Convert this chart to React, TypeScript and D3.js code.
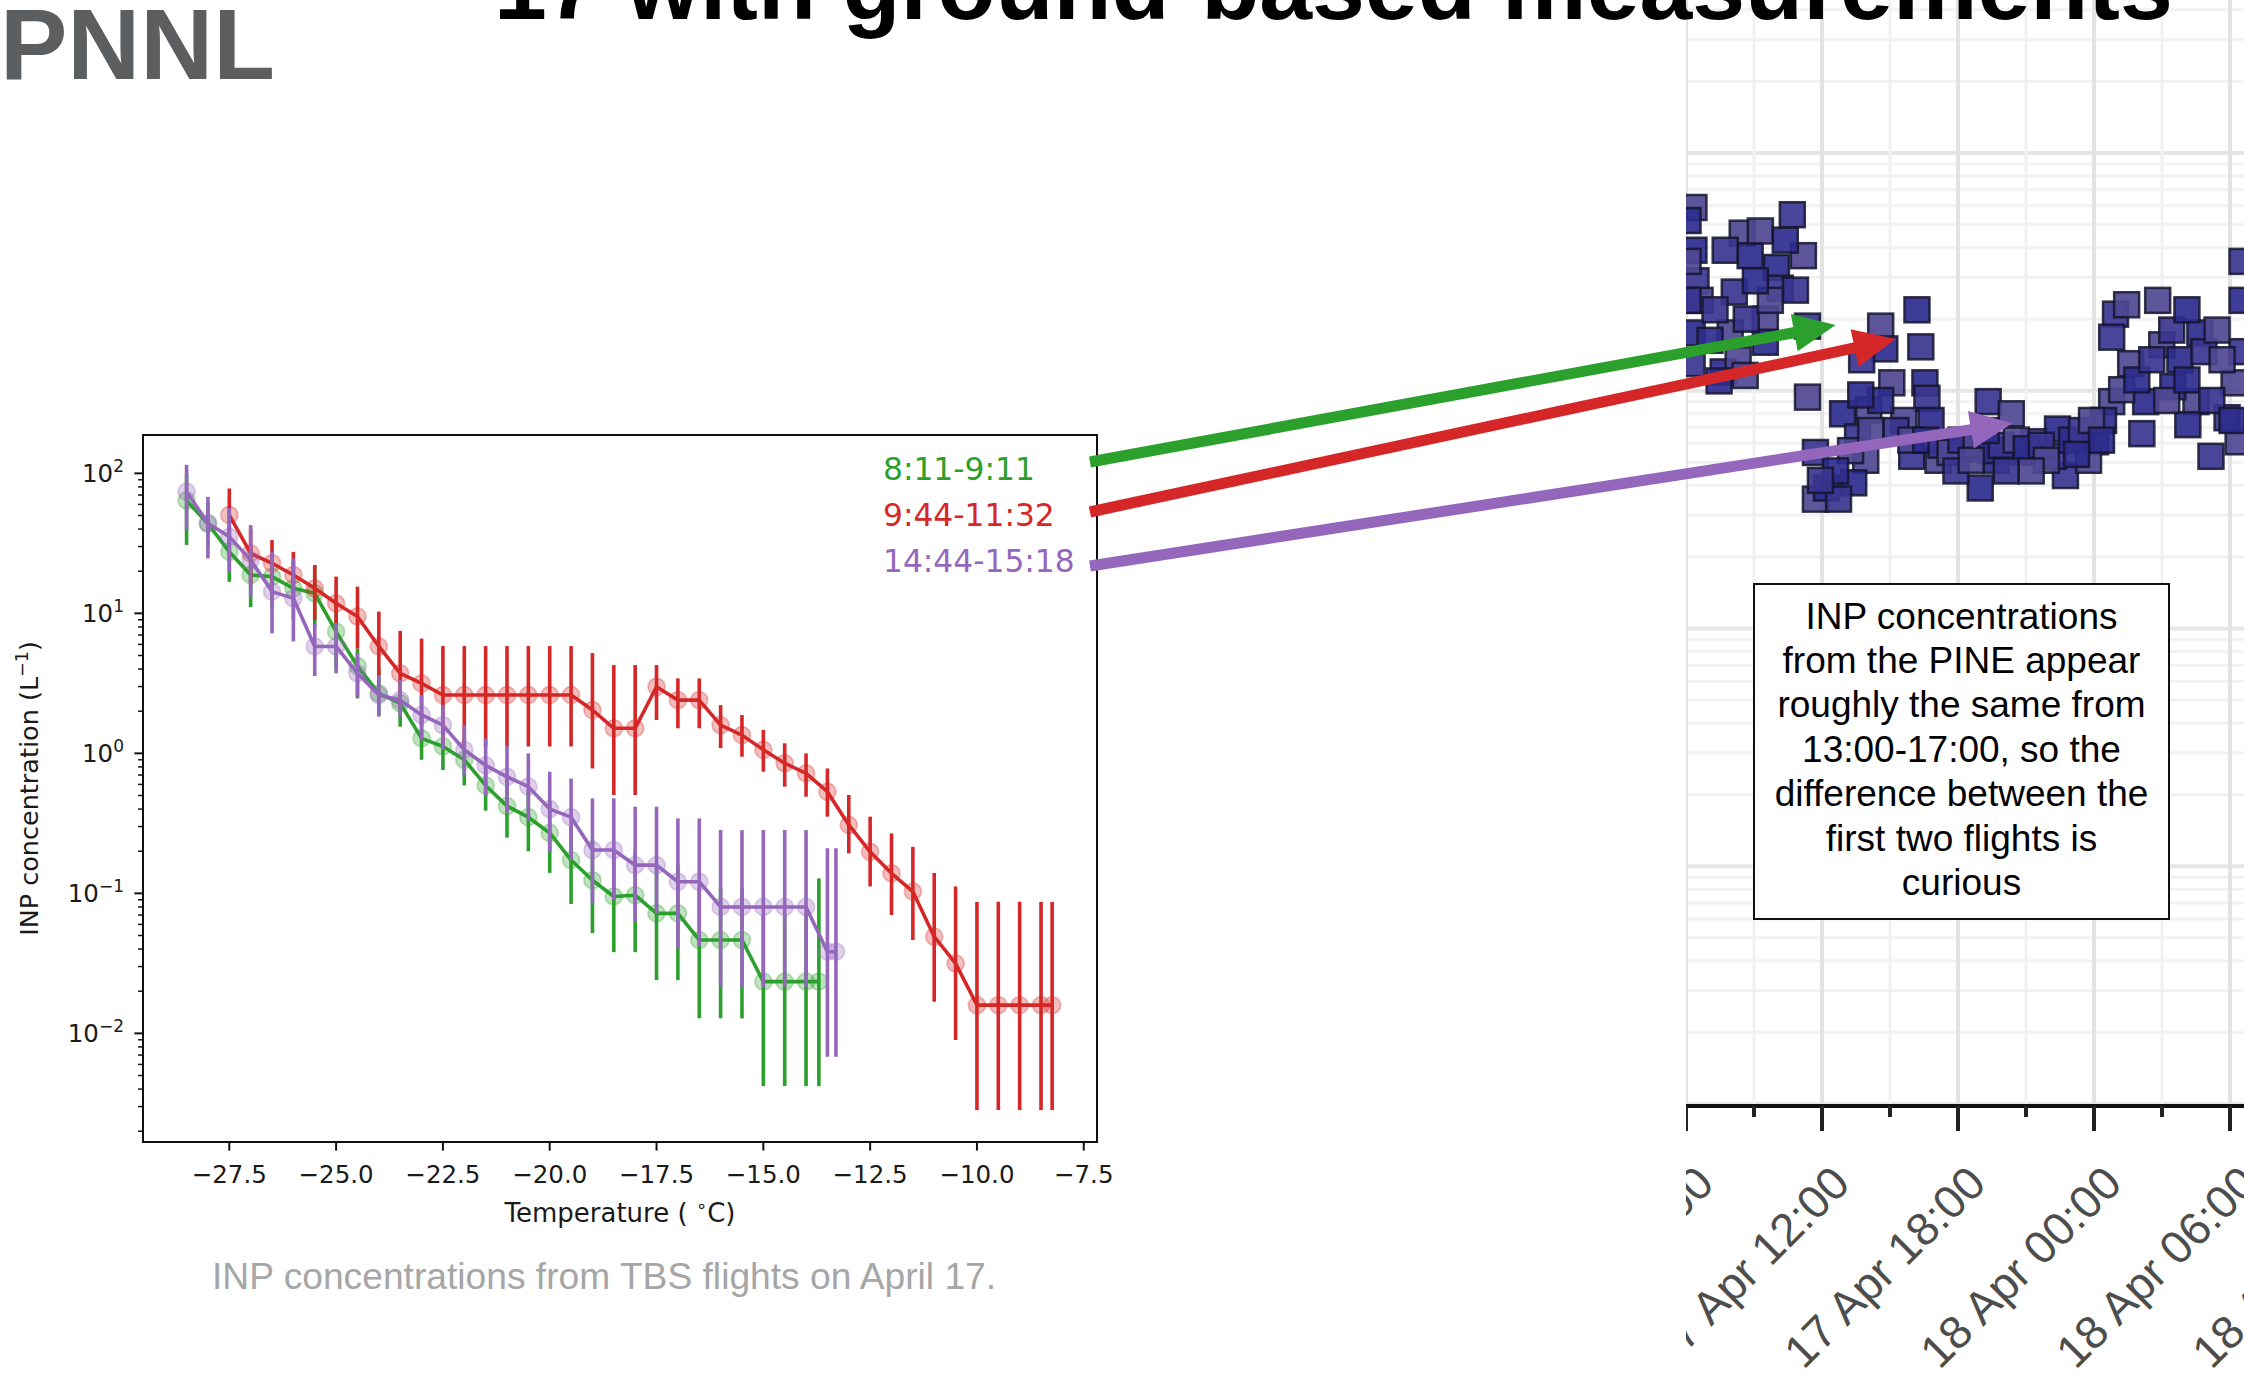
import React from 'react';
import * as d3 from 'd3';

const W = 2244;
const H = 1374;

// ---- TBS flights, April 17: INP concentration (L^-1) vs temperature (°C) ----
const flightLabels = ['8:11-9:11', '9:44-11:32', '14:44-15:18'];
const flightColors = ['#2ca02c', '#d62728', '#9467bd'];

const f1Temp = [-28.5, -28, -27.5, -27, -26.5, -26, -25.5, -25, -24.5, -24, -23.5, -23, -22.5, -22, -21.5, -21, -20.5, -20, -19.5, -19, -18.5, -18, -17.5, -17, -16.5, -16, -15.5, -15, -14.5, -14, -13.7];
const f1Inp = [64, 43.7, 27.5, 18.8, 18.3, 15.1, 13.9, 7.4, 4.2, 2.68, 2.28, 1.28, 1.12, 0.9, 0.59, 0.42, 0.35, 0.27, 0.173, 0.124, 0.095, 0.097, 0.072, 0.072, 0.0464, 0.0464, 0.0464, 0.0234, 0.0234, 0.0234, 0.0234];
const f1Lo = [30.8, 30, 16.8, 11.1, 11, 9, 8, 4, 2.47, 1.85, 1.55, 0.9, 0.76, 0.59, 0.39, 0.25, 0.2, 0.14, 0.084, 0.052, 0.038, 0.038, 0.024, 0.024, 0.0128, 0.0128, 0.0128, 0.0042, 0.0042, 0.0042, 0.0042];
const f1Hi = [100, 62, 42, 30, 28, 24, 22, 12, 5.6, 4, 3.4, 1.8, 1.6, 1.3, 0.85, 0.65, 0.55, 0.45, 0.3, 0.24, 0.2, 0.2, 0.16, 0.16, 0.11, 0.11, 0.11, 0.07, 0.07, 0.07, 0.128];

const f2Temp = [-27.5, -27, -26.5, -26, -25.5, -25, -24.5, -24, -23.5, -23, -22.5, -22, -21.5, -21, -20.5, -20, -19.5, -19, -18.5, -18, -17.5, -17, -16.5, -16, -15.5, -15, -14.5, -14, -13.5, -13, -12.5, -12, -11.5, -11, -10.5, -10, -9.5, -9, -8.5, -8.24];
const f2Inp = [50.4, 26.8, 22.8, 18.8, 15.1, 11.8, 9.5, 5.8, 3.73, 3.16, 2.61, 2.61, 2.61, 2.61, 2.61, 2.61, 2.61, 2.04, 1.51, 1.51, 2.99, 2.4, 2.4, 1.59, 1.35, 1.06, 0.85, 0.72, 0.532, 0.308, 0.198, 0.139, 0.103, 0.049, 0.0316, 0.0159, 0.0159, 0.0159, 0.0159, 0.0159];
const f2Lo = [28, 16, 14, 12, 8.96, 8.5, 5.6, 3.6, 2.2, 1.6, 1.2, 1.12, 1.12, 1.12, 1.12, 1.12, 1.12, 0.78, 0.504, 0.504, 1.73, 1.51, 1.51, 1.09, 0.946, 0.74, 0.578, 0.49, 0.353, 0.193, 0.112, 0.07, 0.0464, 0.0168, 0.00896, 0.00283, 0.00283, 0.00283, 0.00283, 0.00283];
const f2Hi = [78, 40, 33.4, 27.5, 22.1, 18.3, 15.5, 10.3, 7.5, 6.6, 5.84, 5.84, 5.84, 5.84, 5.84, 5.84, 5.84, 5.2, 4.27, 4.27, 4.27, 3.43, 3.43, 2.21, 1.88, 1.47, 1.18, 1.0, 0.78, 0.504, 0.353, 0.268, 0.215, 0.14, 0.112, 0.087, 0.087, 0.087, 0.087, 0.087];

const f3Temp = [-28.5, -28, -27.5, -27, -26.5, -26, -25.5, -25, -24.5, -24, -23.5, -23, -22.5, -22, -21.5, -21, -20.5, -20, -19.5, -19, -18.5, -18, -17.5, -17, -16.5, -16, -15.5, -15, -14.5, -14, -13.5, -13.3];
const f3Inp = [74, 44, 35.3, 24, 14.3, 12.8, 5.8, 5.8, 3.73, 2.61, 2.4, 1.88, 1.59, 1.06, 0.82, 0.68, 0.578, 0.4, 0.35, 0.204, 0.204, 0.159, 0.159, 0.121, 0.121, 0.08, 0.08, 0.08, 0.08, 0.08, 0.0383, 0.0383];
const f3Lo = [39.4, 24.7, 19.8, 13.1, 7.2, 6.3, 3.57, 3.73, 2.54, 1.83, 1.83, 1.24, 1.06, 0.7, 0.5, 0.37, 0.33, 0.198, 0.173, 0.085, 0.0896, 0.0627, 0.072, 0.0405, 0.042, 0.0215, 0.0215, 0.0215, 0.0215, 0.0215, 0.0068, 0.0068];
const f3Hi = [115, 68, 56.5, 42.7, 27.5, 24.7, 8.4, 8.5, 5.2, 3.6, 3.34, 2.61, 2.21, 1.59, 1.28, 1.13, 1.0, 0.74, 0.66, 0.477, 0.477, 0.416, 0.416, 0.343, 0.343, 0.283, 0.283, 0.283, 0.283, 0.283, 0.21, 0.21];

const tempTicks = [-27.5, -25, -22.5, -20, -17.5, -15, -12.5, -10, -7.5];
const concDecades = [-2, -1, 0, 1, 2];

// ---- PINE ground-based INP time series (hours after 17 Apr 06:00) ----
const pineHours = [
  0.35, 0.35, 0.44, 0.62, 0.27, 0.27, 2.48, 2.83, 2.13, 1.95, 1.64, 4.69, 5.18, 3.99, 4.16, 3.5, 3.5, 2.66, 2.3, 1.46, 5.36, 5.36,
  0.09, 0.09, 0.09, 1.06, 1.28, 3.28, 4.38, 4.83, 3.72, 3.06, 1.73, 2.61,
  10.19, 10.36, 8.59, 8.77,
  7.75, 9.08, 10.54, 10.63, 8.06, 6.91, 7.57, 7.93, 7.4, 5.71, 5.71, 6.2, 6.73, 9.61, 10.81, 9.96, 11.12,
  8.59, 9.26, 9.92, 10.58, 11.25, 7.26, 6.6, 5.93, 8.15, 7.71,
  13.33, 14.35, 12.98, 16.74, 15.37, 16.39, 18.07, 17.76, 14.7, 12.31, 11.65, 13.68, 16.21, 18.78, 18.42,
  12.13, 12.8, 13.46, 13.91, 14.57, 15.01, 15.68, 15.9, 17.01, 17.45, 17.89, 18.33, 11.91, 12.58, 13.24, 14.13, 15.23, 17.23,
  18.95, 20.81, 22.67, 18.78, 19.62, 20.28, 20.11, 20.99, 21.79, 22.85, 22.5, 22.14, 23.16, 24.18, 24.53, 24.53, 24.36, 21.48, 23.87,
  19.22, 19.89, 20.55, 21.21, 22.1, 23.2, 23.65, 24.09, 21.43, 23.43, 22.1, 24.53, 19.44,
];
const pineInp = [
  59, 39, 29, 24, 17.5, 13, 46, 37, 26, 17.5, 12, 55, 37, 33, 27, 20, 16, 20, 13.5, 11, 18.7, 9.4,
  52, 24, 35, 16.3, 21.9, 47, 43, 26.5, 24, 29, 39, 11.6,
  21.9, 15.3, 18.7, 15,
  13.5, 10.8, 10.8, 9.3, 8.3, 8.0, 6.4, 5.1, 4.1, 5.5, 3.5, 3.9, 3.5, 7.5, 7.5, 5.3, 5.1,
  9.1, 6.8, 6.2, 6.2, 5.9, 5.6, 4.6, 4.2, 6.8, 9.6,
  9.0, 8.0, 3.9, 4.4, 6.1, 6.9, 6.1, 5.1, 5.5, 5.7, 5.5, 5.1, 5.3, 9.0, 7.5,
  6.2, 5.9, 5.6, 5.9, 6.2, 5.7, 5.9, 5.1, 6.2, 6.8, 7.5, 6.2, 4.6, 5.1, 6.8, 4.6, 4.6, 5.4,
  21, 24, 17.5, 16.8, 13, 9.0, 6.6, 15.6, 13.5, 14.6, 9.0, 7.2, 5.3, 10.8, 24, 14.6, 6.1, 10.4, 7.7,
  10.1, 11.1, 13.5, 9.1, 11.1, 9.1, 13.5, 7.5, 18, 18, 21.9, 35, 23,
];
const timeMajorHours = [0, 6, 12, 18, 24, 30];
const timeMinorHours = [3, 9, 15, 21, 27];
const timeTickLabels = ['17 Apr 06:00', '17 Apr 12:00', '17 Apr 18:00', '18 Apr 00:00', '18 Apr 06:00', '18 Apr 12:00'];

// where each flight arrow lands on the PINE series
const arrowTipHours = [6.6, 9.25, 14.4];
const arrowTipInp = [18.9, 16.5, 7.3];

const noteLines = [
  'INP concentrations',
  'from the PINE appear',
  'roughly the same from',
  '13:00-17:00, so the',
  'difference between the',
  'first two flights is',
  'curious',
];

// ---- scales ----
const FRAME = { left: 143, right: 1097, top: 435, bottom: 1142 };
const xT = d3.scaleLinear().domain([-29.52, -7.19]).range([FRAME.left, FRAME.right]);
const yC = d3.scaleLog().domain([0.001675, 187.9]).range([FRAME.bottom, FRAME.top]);

const PANEL = { left: 1686, axisY: 1106 };
const xP = d3.scaleLinear().domain([0, 24]).range([PANEL.left, 2230]);
const yP = d3.scaleLog().domain([0.01, 100]).range([1104, 153]);

const MPL = "'DejaVu Sans', sans-serif";
const ARIAL = "'Liberation Sans', Arial, sans-serif";

function Series({ temps, vals, lo, hi, color }: { temps: number[]; vals: number[]; lo: number[]; hi: number[]; color: string }) {
  const line = d3
    .line<number>()
    .x((_, i) => xT(temps[i]))
    .y((v) => yC(v));
  return (
    <g>
      {temps.map((t, i) => (
        <line key={'e' + i} x1={xT(t)} x2={xT(t)} y1={yC(lo[i])} y2={yC(hi[i])} stroke={color} strokeWidth={3.6} />
      ))}
      <path d={line(vals) || ''} fill="none" stroke={color} strokeWidth={3.6} strokeLinejoin="round" />
      {temps.map((t, i) => (
        <circle
          key={'m' + i}
          cx={xT(t)}
          cy={yC(vals[i])}
          r={8.5}
          fill={color}
          fillOpacity={0.3}
          stroke={color}
          strokeOpacity={0.3}
          strokeWidth={1.8}
        />
      ))}
    </g>
  );
}

function Arrow({ x1, y1, x2, y2, color }: { x1: number; y1: number; x2: number; y2: number; color: string }) {
  const dx = x2 - x1;
  const dy = y2 - y1;
  const L = Math.hypot(dx, dy);
  const ux = dx / L;
  const uy = dy / L;
  const hl = 42;
  const hw = 19;
  const bx = x2 - ux * hl;
  const by = y2 - uy * hl;
  const pts = [
    [x2, y2],
    [bx - uy * hw, by + ux * hw],
    [bx + uy * hw, by - ux * hw],
  ]
    .map((p) => p.join(','))
    .join(' ');
  return (
    <g>
      <line x1={x1} y1={y1} x2={bx + ux * 2} y2={by + uy * 2} stroke={color} strokeWidth={11} />
      <polygon points={pts} fill={color} />
    </g>
  );
}

function LeftChart() {
  const [d0, d1] = yC.domain();
  const yTicks: { v: number; major: boolean }[] = [];
  for (let k = -3; k <= 2; k++) {
    for (let m = 1; m <= 9; m++) {
      const v = m * Math.pow(10, k);
      if (v >= d0 && v <= d1) yTicks.push({ v, major: m === 1 });
    }
  }
  const cy = (FRAME.top + FRAME.bottom) / 2;
  const cx = (FRAME.left + FRAME.right) / 2;
  return (
    <g>
      <Series temps={f1Temp} vals={f1Inp} lo={f1Lo} hi={f1Hi} color={flightColors[0]} />
      <Series temps={f2Temp} vals={f2Inp} lo={f2Lo} hi={f2Hi} color={flightColors[1]} />
      <Series temps={f3Temp} vals={f3Inp} lo={f3Lo} hi={f3Hi} color={flightColors[2]} />

      <rect
        x={FRAME.left}
        y={FRAME.top}
        width={FRAME.right - FRAME.left}
        height={FRAME.bottom - FRAME.top}
        fill="none"
        stroke="#111"
        strokeWidth={2}
      />

      {yTicks.map((t, i) => (
        <line
          key={'yt' + i}
          x1={FRAME.left}
          x2={FRAME.left - (t.major ? 8.6 : 4.9)}
          y1={yC(t.v)}
          y2={yC(t.v)}
          stroke="#111"
          strokeWidth={t.major ? 2 : 1.5}
        />
      ))}
      {concDecades.map((k) => (
        <text key={'yl' + k} x={124} y={yC(Math.pow(10, k)) + 9} textAnchor="end" fontFamily={MPL} fontSize={24.5} fill="#1a1a1a">
          <tspan>10</tspan>
          <tspan dy={-10} fontSize={17}>
            {k < 0 ? '\u2212' + Math.abs(k) : String(k)}
          </tspan>
        </text>
      ))}

      {tempTicks.map((t) => (
        <g key={'xt' + t}>
          <line x1={xT(t)} x2={xT(t)} y1={FRAME.bottom} y2={FRAME.bottom + 8.6} stroke="#111" strokeWidth={2} />
          <text x={xT(t)} y={1183} textAnchor="middle" fontFamily={MPL} fontSize={24.5} fill="#1a1a1a">
            {(t < 0 ? '\u2212' : '') + Math.abs(t).toFixed(1)}
          </text>
        </g>
      ))}

      <text x={cx} y={1222} textAnchor="middle" fontFamily={MPL} fontSize={26} fill="#1a1a1a">
        <tspan>Temperature ( </tspan>
        <tspan dy={-10} fontSize={18}>
          ∘
        </tspan>
        <tspan dy={10}>C)</tspan>
      </text>

      <text
        transform={`translate(38,${cy}) rotate(-90)`}
        textAnchor="middle"
        fontFamily={MPL}
        fontSize={25.5}
        fill="#1a1a1a"
      >
        <tspan>INP concentration (L</tspan>
        <tspan dy={-10} fontSize={17.5}>
          −1
        </tspan>
        <tspan dy={10}>)</tspan>
      </text>

      {flightLabels.map((lab, i) => (
        <text key={lab} x={883} y={480 + i * 46} fontFamily={MPL} fontSize={31.3} fill={flightColors[i]}>
          {lab}
        </text>
      ))}
    </g>
  );
}

function PinePanel() {
  const hLines: { y: number; major: boolean }[] = [];
  for (let k = -2; k <= 2; k++) {
    for (let m = 1; m <= 9; m++) {
      const y = yP(m * Math.pow(10, k));
      if (y >= 0 && y <= PANEL.axisY) hLines.push({ y, major: m === 1 });
    }
  }
  const fills = ['#4f4893', '#2d2c8e', '#3a3590'];
  return (
    <g clipPath="url(#pineClip)">
      {hLines.map((l, i) => (
        <line
          key={'h' + i}
          x1={PANEL.left}
          x2={W}
          y1={l.y}
          y2={l.y}
          stroke={l.major ? '#e6e6e6' : '#f2f2f2'}
          strokeWidth={l.major ? 4 : 3}
        />
      ))}
      {timeMinorHours.map((h) => (
        <line key={'vm' + h} x1={xP(h)} x2={xP(h)} y1={0} y2={PANEL.axisY} stroke="#f1f1f1" strokeWidth={3} />
      ))}
      {timeMajorHours.map((h) => (
        <line key={'vM' + h} x1={xP(h)} x2={xP(h)} y1={0} y2={PANEL.axisY} stroke="#e3e3e3" strokeWidth={4} />
      ))}

      {pineHours.map((h, i) => (
        <rect
          key={'p' + i}
          x={xP(h) - 12.5}
          y={yP(pineInp[i]) - 12.5}
          width={25}
          height={25}
          fill={fills[i % 3]}
          fillOpacity={0.92}
          stroke="#15152e"
          strokeOpacity={0.85}
          strokeWidth={2.5}
        />
      ))}

      <line x1={PANEL.left} x2={W} y1={PANEL.axisY} y2={PANEL.axisY} stroke="#111" strokeWidth={4} />
      {timeMajorHours.map((h) => (
        <line key={'tM' + h} x1={xP(h)} x2={xP(h)} y1={PANEL.axisY} y2={1131} stroke="#222" strokeWidth={4} />
      ))}
      {timeMinorHours.map((h) => (
        <line key={'tm' + h} x1={xP(h)} x2={xP(h)} y1={PANEL.axisY} y2={1117} stroke="#222" strokeWidth={4} />
      ))}
      {timeMajorHours.map((h, i) => (
        <text
          key={'tl' + h}
          transform={`translate(${xP(h) + 30},1186) rotate(-45)`}
          textAnchor="end"
          fontFamily={ARIAL}
          fontSize={46}
          fill="#4d4d4d"
        >
          {timeTickLabels[i]}
        </text>
      ))}
    </g>
  );
}

export default function App() {
  const tailY = [462, 512, 566];
  return (
    <svg
      width={W}
      height={H}
      viewBox={`0 0 ${W} ${H}`}
      style={{ position: 'absolute', left: 0, top: 0, display: 'block', background: '#fff' }}
    >
      <defs>
        <clipPath id="pineClip">
          <rect x={PANEL.left} y={0} width={W - PANEL.left} height={H} />
        </clipPath>
      </defs>
      <rect x={0} y={0} width={W} height={H} fill="#fff" />

      <PinePanel />

      <rect x={1754} y={584} width={415} height={335} fill="#fff" stroke="#111" strokeWidth={2} />
      {noteLines.map((t, i) => (
        <text key={'n' + i} x={1961.5} y={628.5 + i * 44.4} textAnchor="middle" fontFamily={ARIAL} fontSize={37} fill="#000">
          {t}
        </text>
      ))}

      <LeftChart />

      {arrowTipHours.map((h, i) => (
        <Arrow key={'a' + i} x1={1090} y1={tailY[i]} x2={xP(h)} y2={yP(arrowTipInp[i])} color={flightColors[i]} />
      ))}

      <text x={212} y={1289} fontFamily={ARIAL} fontSize={37.2} fill="#a6a6a6">
        INP concentrations from TBS flights on April 17.
      </text>

      <text x={0} y={79} fontFamily={ARIAL} fontWeight="bold" fontSize={101} fill="#5d5e60">
        PNNL
      </text>
      <text x={494} y={19} fontFamily={ARIAL} fontWeight="bold" fontSize={95} fill="#000">
        17 with ground-based measurements
      </text>
    </svg>
  );
}
